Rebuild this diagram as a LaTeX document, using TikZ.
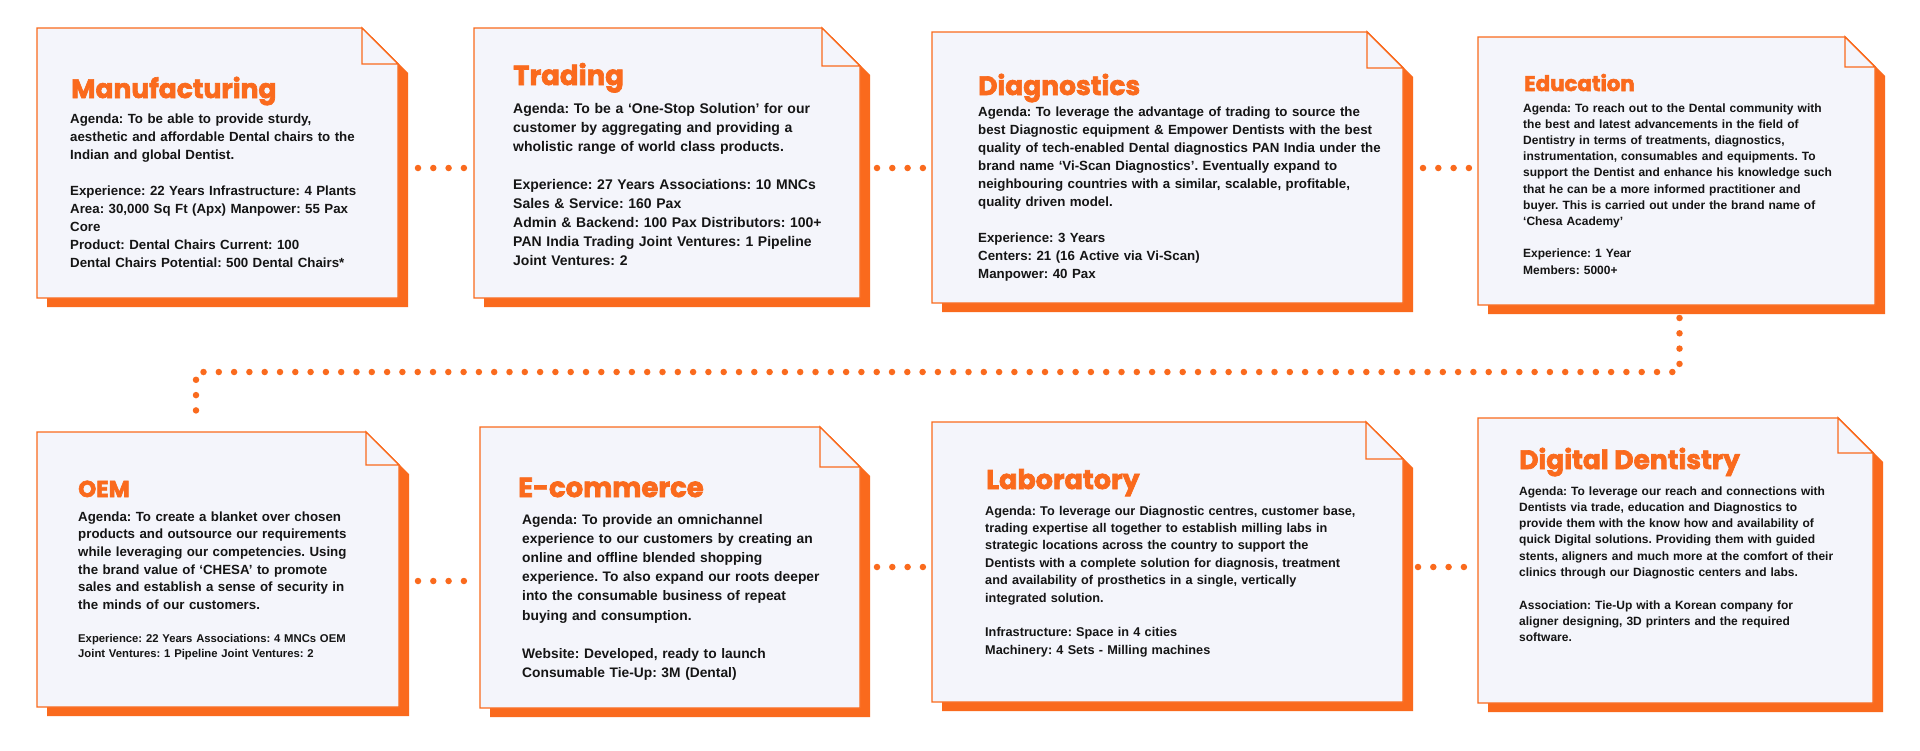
\documentclass[tikz,border=0pt]{standalone}
\usepackage{fontspec}
\setmainfont{Liberation Sans}
\newfontfamily\headfont{Poppins}[BoldFeatures={FakeBold=2.5}]
\usetikzlibrary{positioning,calc}
\frenchspacing
\definecolor{orc}{HTML}{FA6A1D}
\definecolor{paper}{HTML}{F4F5FB}
\definecolor{ink}{HTML}{151515}
% card with shadow and folded corner: node name, fold size
\newcommand{\dogear}[2]{%
  \fill[orc] ([shift={(10,9)}]#1.north west) -- ([shift={(10-#2,9)}]#1.north east)
    -- ([shift={(10,9+#2)}]#1.north east) -- ([shift={(10,9)}]#1.south east)
    -- ([shift={(10,9)}]#1.south west) -- cycle;
  \filldraw[face] (#1.north west) -- ([shift={(-#2,0)}]#1.north east)
    -- ([shift={(0,#2)}]#1.north east) -- (#1.south east) -- (#1.south west) -- cycle;
  \filldraw[face] ([shift={(-#2,0)}]#1.north east) -- ([shift={(-#2,#2)}]#1.north east)
    -- ([shift={(0,#2)}]#1.north east) -- cycle;
}
\begin{document}
\begin{tikzpicture}[x=1pt,y=-1pt,
  card/.style={inner sep=0pt,outer sep=0pt,anchor=north west},
  face/.style={fill=paper,draw=orc,line width=1.4pt,line join=miter},
  ttl/.style={anchor=base west,inner sep=0pt,text=orc,font=\headfont\bfseries\fontsize{#1}{#1}\selectfont},
  ttl/.default=26.5,
  txt/.style={anchor=base west,inner sep=0pt,text=ink,align=left,text width=440pt},
  sz/.style 2 args={font=\bfseries\fontsize{#1}{#2}\selectfont},
  dotline/.style={draw=orc,line width=6.5pt,line cap=round,dash pattern=on 0pt off 15.3pt}]
\fill[white] (0,0) rectangle (1920,750);
\useasboundingbox (0,0) rectangle (1920,750);

% top row
\node[card,minimum width=361,minimum height=270] (mfg) at (37,28) {};
\node[card,minimum width=386,minimum height=270] (trd) at (474,28) {};
\node[card,minimum width=471,minimum height=271] (dia) at (932,32) {};
\node[card,minimum width=397,minimum height=268] (edu) at (1478,37) {};
% bottom row
\node[card,minimum width=362,minimum height=275] (oem) at (37,432) {};
\node[card,minimum width=380,minimum height=281] (eco) at (480,427) {};
\node[card,minimum width=471,minimum height=280] (lab) at (932,422) {};
\node[card,minimum width=395,minimum height=285] (dig) at (1478,418) {};

\dogear{mfg}{36}
\dogear{trd}{38}
\dogear{dia}{36}
\dogear{edu}{30}
\dogear{oem}{33}
\dogear{eco}{40}
\dogear{lab}{37}
\dogear{dig}{35}

% connectors
\draw[dotline] ([shift={(20,5)}]mfg.east) -- ([shift={(-9,5)}]trd.west);
\draw[dotline] ([shift={(17,5)}]trd.east) -- ([shift={(-9,0.5)}]dia.west);
\draw[dotline] ([shift={(20,0.5)}]dia.east) -- ([shift={(-9,-3)}]edu.west);
\draw[dotline] ([shift={(3,13)}]edu.south) -- ++(0,54) -| ([shift={(-22,-14)}]oem.north);
\draw[dotline] ([shift={(19,11.5)}]oem.east) -- ([shift={(-15,13.5)}]eco.west);
\draw[dotline] ([shift={(17,-0.5)}]eco.east) -- ([shift={(-9,5)}]lab.west);
\draw[dotline] ([shift={(15,5)}]lab.east) -- ([shift={(-12,6.5)}]dig.west);

% texts
\node[ttl] (mfg-t) at (71,98) {Manufacturing};
\node[txt,sz={13.3}{18}] (mfg-b) at (70,123) {Agenda: To be able to provide sturdy,\\
aesthetic and affordable Dental chairs to the\\
Indian and global Dentist.\\[18pt]
Experience: 22 Years Infrastructure: 4 Plants\\
Area: 30,000 Sq Ft (Apx) Manpower: 55 Pax\\
Core\\
Product: Dental Chairs Current: 100\\
Dental Chairs Potential: 500 Dental Chairs*};

\node[ttl=27.5] (trd-t) at (513,85) {Trading};
\node[txt,sz={14}{19}] (trd-b) at (513,113) {Agenda: To be a ‘One-Stop Solution’ for our\\
customer by aggregating and providing a\\
wholistic range of world class products.\\[19pt]
Experience: 27 Years Associations: 10 MNCs\\
Sales \& Service: 160 Pax\\
Admin \& Backend: 100 Pax Distributors: 100+\\
PAN India Trading Joint Ventures: 1 Pipeline\\
Joint Ventures: 2};

\node[ttl] (dia-t) at (978,95) {Diagnostics};
\node[txt,sz={13.3}{18}] (dia-b) at (978,116) {Agenda: To leverage the advantage of trading to source the\\
best Diagnostic equipment \& Empower Dentists with the best\\
quality of tech-enabled Dental diagnostics PAN India under the\\
brand name ‘Vi-Scan Diagnostics’. Eventually expand to\\
neighbouring countries with a similar, scalable, profitable,\\
quality driven model.\\[18pt]
Experience: 3 Years\\
Centers: 21 (16 Active via Vi-Scan)\\
Manpower: 40 Pax};

\node[ttl=21.3] (edu-t) at (1524,91) {Education};
\node[txt,sz={12}{16.2}] (edu-b) at (1523,112) {Agenda: To reach out to the Dental community with\\
the best and latest advancements in the field of\\
Dentistry in terms of treatments, diagnostics,\\
instrumentation, consumables and equipments. To\\
support the Dentist and enhance his knowledge such\\
that he can be a more informed practitioner and\\
buyer. This is carried out under the brand name of\\
‘Chesa Academy’\\[16.2pt]
Experience: 1 Year\\
Members: 5000+};

\node[ttl=23] (oem-t) at (78,497) {OEM};
\node[txt,sz={13.3}{17.7}] (oem-b) at (78,521) {Agenda: To create a blanket over chosen\\
products and outsource our requirements\\
while leveraging our competencies. Using\\
the brand value of ‘CHESA’ to promote\\
sales and establish a sense of security in\\
the minds of our customers.};
\node[txt,sz={11.3}{15.5}] (oem-s) at (78,642) {Experience: 22 Years Associations: 4 MNCs OEM\\
Joint Ventures: 1 Pipeline Joint Ventures: 2};

\node[ttl=27.5] (eco-t) at (518,497) {E-commerce};
\node[txt,sz={13.8}{19.2}] (eco-b) at (522,524) {Agenda: To provide an omnichannel\\
experience to our customers by creating an\\
online and offline blended shopping\\
experience. To also expand our roots deeper\\
into the consumable business of repeat\\
buying and consumption.\\[19.2pt]
Website: Developed, ready to launch\\
Consumable Tie-Up: 3M (Dental)};

\node[ttl=27] (lab-t) at (986,489) {Laboratory};
\node[txt,sz={12.7}{17.4}] (lab-b) at (985,515) {Agenda: To leverage our Diagnostic centres, customer base,\\
trading expertise all together to establish milling labs in\\
strategic locations across the country to support the\\
Dentists with a complete solution for diagnosis, treatment\\
and availability of prosthetics in a single, vertically\\
integrated solution.\\[17.4pt]
Infrastructure: Space in 4 cities\\
Machinery: 4 Sets - Milling machines};

\node[ttl] (dig-t) at (1519,469) {Digital Dentistry};
\node[txt,sz={12}{16.3}] (dig-b) at (1519,495) {Agenda: To leverage our reach and connections with\\
Dentists via trade, education and Diagnostics to\\
provide them with the know how and availability of\\
quick Digital solutions. Providing them with guided\\
stents, aligners and much more at the comfort of their\\
clinics through our Diagnostic centers and labs.\\[16.3pt]
Association: Tie-Up with a Korean company for\\
aligner designing, 3D printers and the required\\
software.};
\end{tikzpicture}
\end{document}
